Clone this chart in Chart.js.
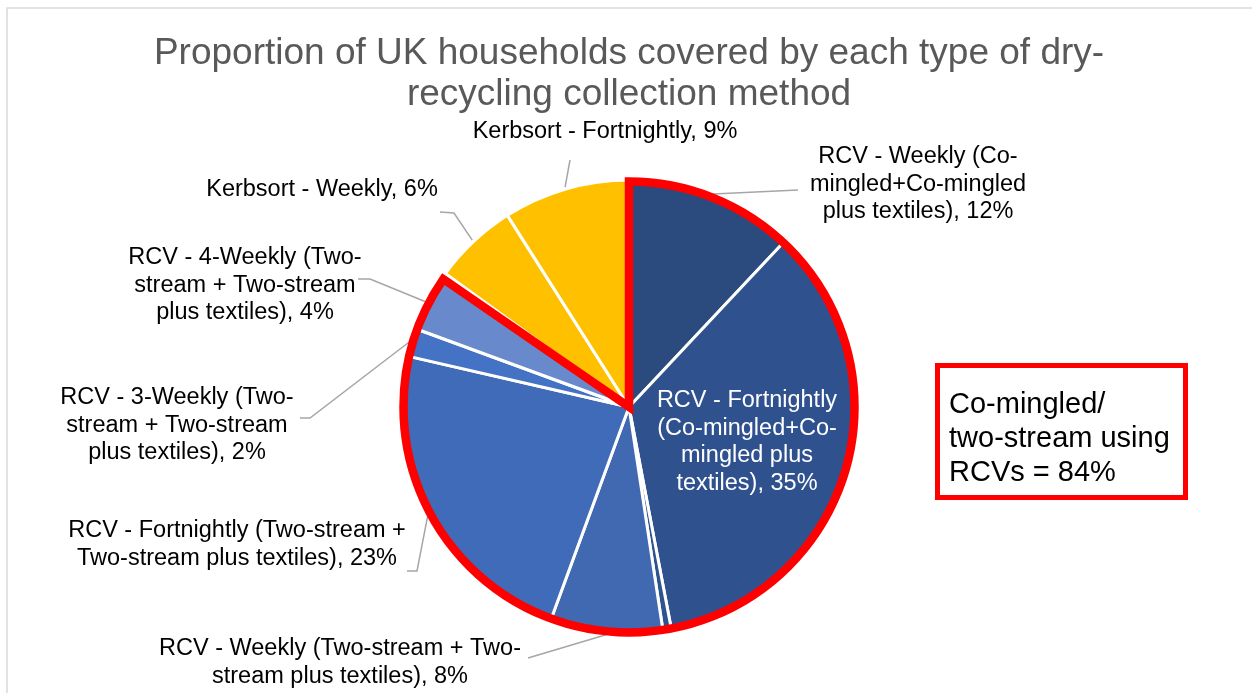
<!DOCTYPE html>
<html>
<head>
<meta charset="utf-8">
<title>Dry-recycling collection methods</title>
<script src="https://cdn.jsdelivr.net/npm/chart.js@4.4.1/dist/chart.umd.min.js"></script>
<style>
  html, body { margin: 0; padding: 0; background: #fff; }
  canvas { display: block; }
</style>
</head>
<body>
<canvas id="recyclingChart" width="1252" height="693"></canvas>
<script>
// Collection methods, clockwise from 12 o'clock. '\n' marks where the callout wraps.
const methods = [
    'RCV - Weekly (Co-\nmingled+Co-mingled\nplus textiles)',
    'RCV - Fortnightly\n(Co-mingled+Co-\nmingled plus\ntextiles)',
    'Other 1',
    'RCV - Weekly (Two-stream + Two-\nstream plus textiles)',
    'RCV - Fortnightly (Two-stream +\nTwo-stream plus textiles)',
    'RCV - 3-Weekly (Two-\nstream + Two-stream\nplus textiles)',
    'RCV - 4-Weekly (Two-\nstream + Two-stream\nplus textiles)',
    'Other 2',
    'Kerbsort - Weekly',
    'Kerbsort - Fortnightly'
];

// Share of UK households (%)
const shares = [12, 35, 0.6, 8, 23, 2, 4, 0.4, 6, 9];

const sliceColours = [
    '#2b4a7e', '#2f528f', '#2e5391', '#4069b2', '#406bb8',
    '#4472c4', '#6889cc', '#8faadc', '#ffc000', '#ffc000'
];

// Where each callout sits and the elbow of its leader line (null = no callout)
const calloutLayout = [
    { x: 918, y: 157, leader: [[798, 190]] },
    { x: 747, y: 401, colour: '#ffffff' },
    null,
    { x: 340, y: 649, leader: [[528, 658]] },
    { x: 237, y: 531, leader: [[407, 571], [417, 571]] },
    { x: 177, y: 398, leader: [[300, 418], [310, 418]] },
    { x: 245, y: 258, leader: [[358, 279], [370, 279]] },
    null,
    { x: 322, y: 190, leader: [[440, 212], [454, 213]] },
    { x: 605, y: 132, leader: [[570, 160]] }
];

const FONT = '"Liberation Sans", Arial, sans-serif';

const rcvTotal = shares.reduce((sum, v, i) => methods[i].startsWith('RCV') ? sum + v : sum, 0);

const pieCallouts = {
    id: 'pieCallouts',
    beforeDraw(chart) {
        const ctx = chart.ctx;
        ctx.save();
        ctx.fillStyle = '#ffffff';
        ctx.fillRect(0, 0, chart.width, chart.height);
        // chart frame
        ctx.strokeStyle = '#d9d9d9';
        ctx.lineWidth = 1.5;
        ctx.strokeRect(7, 8, chart.width + 20, chart.height + 20);
        ctx.restore();
    },
    afterDatasetsDraw(chart) {
        const ctx = chart.ctx;
        const arcs = chart.getDatasetMeta(0).data;

        ctx.save();
        ctx.font = '23.5px ' + FONT;
        ctx.textAlign = 'center';
        ctx.textBaseline = 'middle';

        arcs.forEach((arc, i) => {
            const layout = calloutLayout[i];
            if (!layout) return;
            const { x, y, startAngle, endAngle, outerRadius } =
                arc.getProps(['x', 'y', 'startAngle', 'endAngle', 'outerRadius'], true);

            if (layout.leader) {
                const mid = (startAngle + endAngle) / 2;
                const ax = x + Math.cos(mid) * (outerRadius + 2);
                const ay = y + Math.sin(mid) * (outerRadius + 2);
                ctx.beginPath();
                layout.leader.forEach(([px, py], k) => k ? ctx.lineTo(px, py) : ctx.moveTo(px, py));
                ctx.lineTo(ax, ay);
                ctx.strokeStyle = '#a6a6a6';
                ctx.lineWidth = 1.5;
                ctx.stroke();
            }

            const lines = (methods[i] + ', ' + Math.round(shares[i]) + '%').split('\n');
            ctx.fillStyle = layout.colour || '#000000';
            lines.forEach((line, k) => ctx.fillText(line, layout.x, layout.y + k * 27.5));
        });

        // red outline around the RCV sectors
        const rcvIdx = methods.map((m, i) => m.startsWith('RCV') ? i : -1).filter(i => i >= 0);
        const first = arcs[rcvIdx[0]].getProps(['x', 'y', 'startAngle', 'outerRadius'], true);
        const last = arcs[rcvIdx[rcvIdx.length - 1]].getProps(['endAngle'], true);
        const r = first.outerRadius - 1.5;
        ctx.beginPath();
        ctx.moveTo(first.x, first.y);
        ctx.lineTo(first.x + Math.cos(first.startAngle) * r, first.y + Math.sin(first.startAngle) * r);
        ctx.arc(first.x, first.y, r, first.startAngle, last.endAngle);
        ctx.closePath();
        ctx.strokeStyle = '#ff0000';
        ctx.lineWidth = 8.5;
        ctx.lineJoin = 'miter';
        ctx.stroke();

        // summary box
        ctx.lineWidth = 5;
        ctx.strokeRect(937.5, 365.5, 248, 132);
        ctx.fillStyle = '#000000';
        ctx.textAlign = 'left';
        ctx.font = '29px ' + FONT;
        ['Co-mingled/', 'two-stream using', 'RCVs = ' + rcvTotal + '%']
            .forEach((line, k) => ctx.fillText(line, 949, 405 + k * 34));
        ctx.restore();
    }
};

new Chart(document.getElementById('recyclingChart'), {
    type: 'pie',
    data: {
        labels: methods,
        datasets: [{
            data: shares,
            backgroundColor: sliceColours,
            borderColor: '#ffffff',
            borderWidth: 3
        }]
    },
    options: {
        responsive: false,
        devicePixelRatio: 1,
        animation: false,
        layout: { padding: { left: 99, right: 93, top: 0, bottom: 57.5 } },
        plugins: {
            legend: { display: false },
            tooltip: { enabled: false },
            title: {
                display: true,
                text: ['Proportion of UK households covered by each type of dry-', 'recycling collection method'],
                color: '#595959',
                font: { family: FONT, size: 37, weight: 'normal', lineHeight: 41 / 37 },
                padding: { top: 33, bottom: 63.5 }
            }
        }
    },
    plugins: [pieCallouts]
});
</script>
</body>
</html>
